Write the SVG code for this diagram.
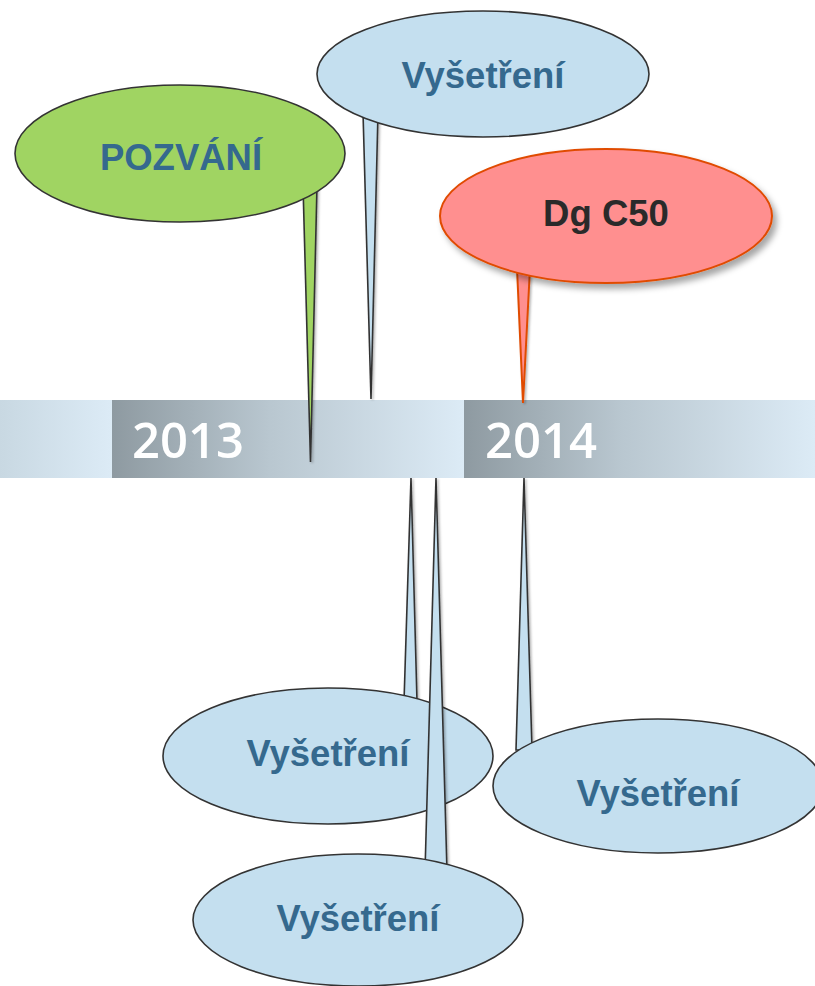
<svg xmlns="http://www.w3.org/2000/svg" width="815" height="986" viewBox="0 0 815 986">
<defs>
<linearGradient id="gLeft" x1="0" y1="0" x2="112" y2="0" gradientUnits="userSpaceOnUse">
<stop offset="0" stop-color="#c8d8e2"/><stop offset="1" stop-color="#dcebf6"/>
</linearGradient>
<linearGradient id="gYear" x1="0" y1="0" x2="1" y2="0">
<stop offset="0" stop-color="#8e9aa1"/><stop offset="0.45" stop-color="#b9c7d0"/><stop offset="1" stop-color="#dcebf6"/>
</linearGradient>
<filter id="shadow" x="-10%" y="-10%" width="130%" height="140%">
<feDropShadow dx="4" dy="5" stdDeviation="3" flood-color="#000" flood-opacity="0.35"/>
</filter>
<filter id="tailShadow" x="-50%" y="-5%" width="200%" height="110%">
<feDropShadow dx="1.5" dy="1" stdDeviation="1.2" flood-color="#000" flood-opacity="0.3"/>
</filter>
</defs>
<style>
.blue{fill:#c4dfef;stroke:#333;stroke-width:1.6}
.green{fill:#a0d462;stroke:#333;stroke-width:1.6}
.red{fill:#ff8f8f;stroke:#e04b05;stroke-width:2}
.tail{filter:url(#tailShadow)}
.lbl{font-family:"Liberation Sans",Arial,sans-serif;font-weight:bold;font-size:36.5px;fill:#35698e;text-anchor:middle}
.dark{fill:#2a2a2a}
.year{font-family:"Open Sans","DejaVu Sans",sans-serif;font-weight:600;font-size:49px;fill:#fff}
</style>

<g id="timeline">
<rect x="0" y="400" width="112" height="78" fill="url(#gLeft)"/>
<rect x="112" y="400" width="352" height="78" fill="url(#gYear)"/>
<rect x="464" y="400" width="351" height="78" fill="url(#gYear)"/>
<text class="year" x="132" y="458">2013</text>
<text class="year" x="485" y="458">2014</text>
</g>

<g id="connectors">
<polygon class="green tail" points="303,185 317,185 310.5,462"/>
<polygon class="blue tail" points="363,112 378,112 371,399"/>
<polygon class="red tail" points="517,268 530,268 523,403"/>
<polygon class="blue tail" points="411,478 404,702 417,702"/>
<polygon class="blue tail" points="524,478 516,750 532,750"/>
</g>

<g id="pozvani">
<ellipse class="green" cx="180" cy="153.5" rx="165" ry="68.5"/>
<text class="lbl" x="181" y="170">POZVÁNÍ</text>
</g>

<g id="vysetreni-top">
<ellipse class="blue" cx="483" cy="74" rx="166" ry="63"/>
<text class="lbl" x="483" y="88">Vyšetření</text>
</g>

<g id="dg-c50">
<ellipse class="red" cx="606" cy="216" rx="166" ry="67" filter="url(#shadow)"/>
<text class="lbl dark" x="606" y="226">Dg C50</text>
</g>

<g id="vysetreni-lower-left">
<ellipse class="blue" cx="328" cy="756" rx="165" ry="68"/>
<text class="lbl" x="328" y="766">Vyšetření</text>
</g>

<g id="vysetreni-right">
<ellipse class="blue" cx="658" cy="786" rx="165" ry="67"/>
<text class="lbl" x="658" y="806">Vyšetření</text>
</g>

<g id="vysetreni-bottom">
<polygon class="blue tail" points="436,478 425,872 447,872"/>
<ellipse class="blue" cx="358" cy="920" rx="165" ry="66"/>
<text class="lbl" x="358" y="931">Vyšetření</text>
</g>
</svg>
